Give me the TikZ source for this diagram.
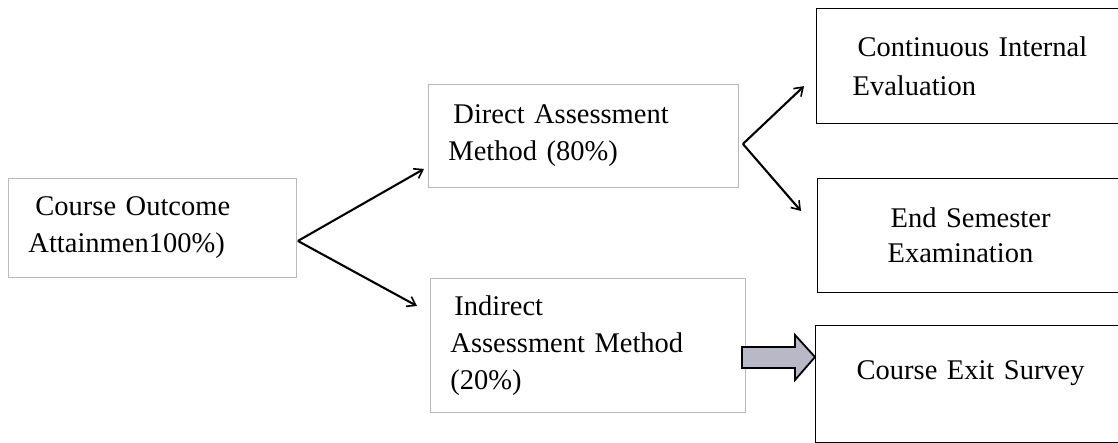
\documentclass[tikz,border=0pt]{standalone}
\usepackage{fontspec}
\setmainfont{Liberation Serif}
\usetikzlibrary{arrows.meta,calc}
\begin{document}
\begin{tikzpicture}[x=1pt,y=-1pt,
  every node/.style={font=\fontsize{28.5}{37}\selectfont},
  softbox/.style={draw=gray!55,line width=0.9pt,anchor=north west,inner ysep=0pt,align=left},
  hardbox/.style={draw=black,line width=1.3pt,anchor=north west,inner ysep=0pt,align=left},
  link/.style={line width=2.1pt,-{Straight Barb[length=8pt,width=11pt,line width=1.6pt]}}]
\useasboundingbox (0,0) rectangle (1118,443);

% left column
\node[softbox,inner xsep=20pt,text width=248pt,minimum height=99pt] (co) at (8,178)
  {\hspace{7pt}Course Outcome\\Attainmen100\%)};

% middle column
\node[softbox,inner xsep=20pt,text width=270pt,minimum height=103pt] (da) at (428,84)
  {\hspace{5pt}Direct Assessment\\Method (80\%)};
\node[softbox,inner xsep=20pt,text width=275pt,minimum height=134pt] (ia) at (430,278)
  {\hspace{4pt}Indirect\\Assessment Method\\(20\%)};

% right column
\node[hardbox,inner xsep=36pt,text width=237pt,minimum height=115pt] (cie) at (816,8)
  {\hspace{5pt}Continuous Internal\\[2pt]Evaluation};
\node[hardbox,inner xsep=70pt,text width=169pt,minimum height=114pt] (es) at (817,178)
  {\hspace{3pt}End Semester\\[-2pt]Examination};
\node[hardbox,inner xsep=10pt,text width=290pt,minimum height=117pt,align=center] (ces) at (815,325)
  {Course Exit Survey\\[-20pt]\strut};

% split points and arrow ends
\coordinate (j1) at ($(co.east)+(1,13)$);
\coordinate (e1) at ($(da.south west)+(-4,-19)$);
\coordinate (e2) at ($(ia.north west)+(-13,28)$);
\coordinate (j2) at ($(da.east)+(4,8)$);
\coordinate (e3) at ($(cie.west)+(-12,20)$);
\coordinate (e4) at ($(es.north west)+(-16,33)$);

\draw[link] (j1) -- (e1);
\draw[link] (j1) -- (e2);
\draw[link] (j2) -- (e3);
\draw[link] (j2) -- (e4);

% block arrow from the indirect method to the survey
\coordinate (tip) at ($(ces.north west)+(0,32)$);
\fill[fill={rgb,255:red,184;green,184;blue,198},draw=black,line width=1.8pt,line join=miter]
  (tip) -- ++(-20,-22) -- ++(0,12) -- ++(-53,0) -- ++(0,21) -- ++(53,0) -- ++(0,12) -- cycle;
\end{tikzpicture}
\end{document}
